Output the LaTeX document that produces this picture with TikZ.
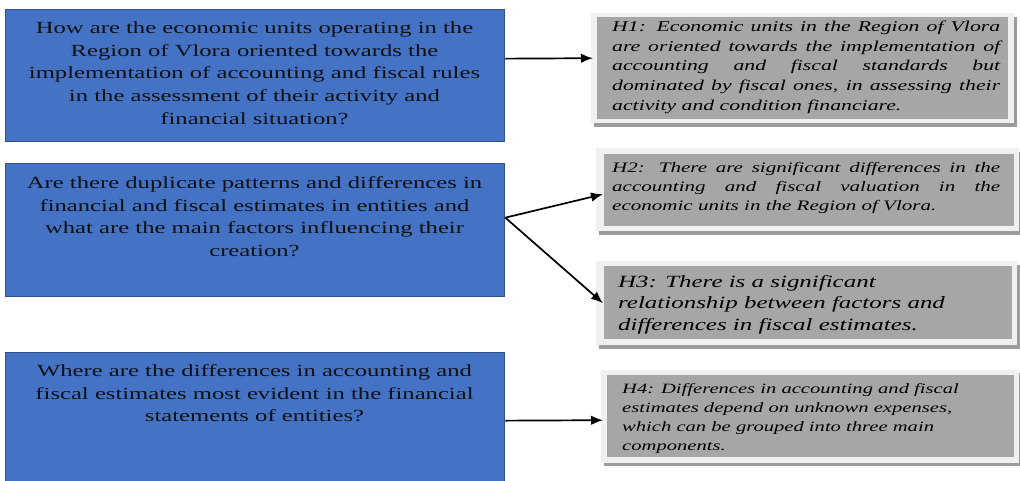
\documentclass[tikz,border=0pt]{standalone}
\usepackage{fontspec}
\setmainfont{Liberation Serif}[FakeStretch=1.45]
\usetikzlibrary{arrows.meta,calc}
\definecolor{qblue}{HTML}{4472C4}
\definecolor{qborder}{HTML}{2F528F}
\definecolor{hgray}{HTML}{A6A6A6}
\definecolor{hframecol}{HTML}{F0F0F0}
\definecolor{hshadow}{HTML}{9C9C9C}
\definecolor{qtext}{HTML}{111111}
\setlength\parindent{0pt}
\begin{document}
\begin{tikzpicture}[x=1pt,y=-1pt,
  qbox/.style={draw=qborder, fill=qblue, line width=1.3pt, anchor=north west, inner sep=0pt},
  qtxt/.style={anchor=north, align=center, inner sep=0pt, text=qtext, font=\fontsize{17}{22.7}\selectfont},
  hfr/.style={fill=hframecol, anchor=north west, inner sep=0pt, draw=none},
  hin/.style={fill=hgray, anchor=north west, inner sep=0pt, draw=none},
  hsh/.style={fill=hshadow, anchor=north west, inner sep=0pt, draw=none},
  htxt/.style={anchor=north west, inner sep=0pt, text=black},
  arr/.style={-{Latex[length=12pt,width=9.5pt]}, line width=1.7pt, black}
]
\useasboundingbox[fill=white] (0,0) rectangle (1020,480);

% question boxes
\node[qbox, minimum width=499pt, minimum height=132pt] (q1) at (5,9) {};
\node[qbox, minimum width=499pt, minimum height=133pt] (q2) at (5,163) {};
\node[qbox, minimum width=499pt, minimum height=134pt] (q3) at (5,352) {};

\node[qtxt] (q1t) at (254.5,21.4) {How are the economic units operating in the\\Region of Vlora oriented towards the\\implementation of accounting and fiscal rules\\in the assessment of their activity and\\financial situation?};
\node[qtxt] (q2t) at (254.5,176.4) {Are there duplicate patterns and differences in\\financial and fiscal estimates in entities and\\what are the main factors influencing their\\creation?};
\node[qtxt] (q3t) at (254.5,364.4) {Where are the differences in accounting and\\fiscal estimates most evident in the financial\\statements of entities?};

% hypothesis boxes
\node[hsh, minimum width=423pt, minimum height=110pt] (h1s) at (594,17) {};
\node[hfr, minimum width=423pt, minimum height=110pt] (h1f) at (591,13) {};
\node[hin, minimum width=411pt, minimum height=102pt] (h1in) at (597,17) {};

\node[hsh, minimum width=423pt, minimum height=83pt] (h2s) at (599,152) {};
\node[hfr, minimum width=423pt, minimum height=83pt] (h2f) at (596,148) {};
\node[hin, minimum width=410pt, minimum height=72pt] (h2in) at (604,154) {};

\node[hsh, minimum width=421pt, minimum height=84pt] (h3s) at (599,265) {};
\node[hfr, minimum width=421pt, minimum height=84pt] (h3f) at (596,261) {};
\node[hin, minimum width=408pt, minimum height=73pt] (h3in) at (604,266) {};

\node[hsh, minimum width=418pt, minimum height=93pt] (h4s) at (604,373) {};
\node[hfr, minimum width=418pt, minimum height=93pt] (h4f) at (601,370) {};
\node[hin, minimum width=407pt, minimum height=82pt] (h4in) at (607,375) {};

\node[htxt, text width=388pt, align=justify, font=\itshape\fontsize{15}{19.75}\selectfont] (h1t) at (612,20.7) {H1: Economic units in the Region of Vlora\linebreak are oriented towards the implementation of\linebreak accounting and fiscal standards but\linebreak dominated by fiscal ones, in assessing their\linebreak activity and condition financiare.};
\node[htxt, text width=388pt, align=justify, font=\itshape\fontsize{14.5}{19}\selectfont] (h2t) at (612,162) {H2: There are significant differences in the\linebreak accounting and fiscal valuation in the\linebreak economic units in the Region of Vlora.};
\node[htxt, align=left, font=\itshape\fontsize{17.2}{21.5}\selectfont] (h3t) at (618,275) {H3: There is a significant\\relationship between factors and\\differences in fiscal estimates.};
\node[htxt, align=left, font=\itshape\fontsize{14.2}{19}\selectfont] (h4t) at (622,383) {H4: Differences in accounting and fiscal\\estimates depend on unknown expenses,\\which can be grouped into three main\\components.};

% connectors
\draw[arr] ($(q1.east)+(0,-17)$) -- ($(h1in.west)+(-4,-10)$);
\draw[arr] ($(q2.east)+(0,-12.5)$) -- ($(h2in.west)+(-1,4)$);
\draw[arr] ($(q2.east)+(0,-12.5)$) -- ($(h3in.west)+(-1,0.5)$);
\draw[arr] ($(q3.east)+(0,1)$) -- ($(h4in.west)+(-4,4)$);
\end{tikzpicture}
\end{document}
